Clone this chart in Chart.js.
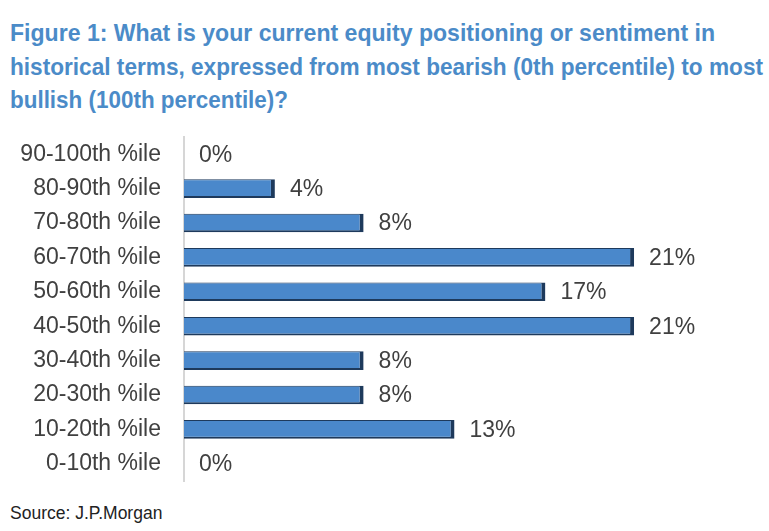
<!DOCTYPE html>
<html>
<head>
<meta charset="utf-8">
<script src="https://cdn.jsdelivr.net/npm/chart.js@4"></script>
<style>
  body { margin: 0; background: #fff; width: 769px; height: 531px; overflow: hidden; position: relative; }
  #title {
    position: absolute; left: 10px; top: 16px;
    font-family: "Liberation Sans", Arial, sans-serif;
    font-weight: bold; font-size: 24px; line-height: 33.5px; color: #4b8bc8;
  }
  #title span { display: block; white-space: nowrap; transform-origin: 0 0; width: max-content; }
  #source {
    position: absolute; left: 10px; top: 503px;
    font-family: "Liberation Sans", Arial, sans-serif; font-size: 17.5px; color: #222;
  }
  #wrap { position: absolute; left: 0; top: 120px; width: 769px; height: 375px; }
</style>
</head>
<body>
<div id="title"><span data-w="705">Figure 1: What is your current equity positioning or sentiment in</span><span data-w="753">historical terms, expressed from most bearish (0th percentile) to most</span><span data-w="278">bullish (100th percentile)?</span></div>
<div id="wrap"><canvas id="bars" width="769" height="375"></canvas></div>
<div id="source">Source: J.P.Morgan</div>
<script>
// categories top to bottom
const buckets = ["90-100th %ile", "80-90th %ile", "70-80th %ile", "60-70th %ile", "50-60th %ile",
                 "40-50th %ile", "30-40th %ile", "20-30th %ile", "10-20th %ile", "0-10th %ile"];
// share of responses, % (labels are rounded)
const shares = [0, 4.2, 8.3, 20.8, 16.7, 20.8, 8.3, 8.3, 12.5, 0];

// squeeze the title lines to the narrow look of the original
document.querySelectorAll("#title span").forEach(s => {
  const k = +s.dataset.w / s.getBoundingClientRect().width;
  s.style.transform = "scaleX(" + k + ")";
});

const labelFont = '23px "Liberation Sans", Arial, sans-serif';

// value labels just right of each bar end
const valueLabels = {
  id: "valueLabels",
  afterDatasetsDraw(chart) {
    const ctx = chart.ctx;
    const meta = chart.getDatasetMeta(0);
    ctx.save();
    ctx.font = labelFont;
    ctx.fillStyle = "#404040";
    ctx.textBaseline = "middle";
    meta.data.forEach((bar, i) => {
      ctx.fillText(Math.round(shares[i]) + "%", bar.x + 15, bar.y + 1);
    });
    ctx.restore();
  }
};

new Chart(document.getElementById("bars"), {
  type: "bar",
  data: {
    labels: buckets,
    datasets: [{
      data: shares,
      backgroundColor: "#4a88cb",
      borderColor: "#1e3a5c",
      borderWidth: { top: 1, right: 4, bottom: 2, left: 0 },
      borderSkipped: "start",
      barPercentage: 0.54,
      categoryPercentage: 1
    }]
  },
  options: {
    indexAxis: "y",
    responsive: false,
    animation: false,
    layout: { padding: { top: 17, bottom: 14, right: 44, left: 0 } },
    plugins: { legend: { display: false }, tooltip: { enabled: false } },
    scales: {
      x: { display: false, min: 0, max: 25 },
      y: {
        // invisible tick marks push the labels off the axis (ticks.padding would also pad top/bottom)
        grid: { display: true, drawOnChartArea: false, drawTicks: true, tickLength: 23, tickColor: "rgba(0,0,0,0)" },
        border: { display: true, color: "#d6d6d6", width: 2 },
        ticks: { padding: 0, color: "#404040", font: { family: '"Liberation Sans", Arial, sans-serif', size: 23 } },
        afterFit(scale) { scale.width = 184; }
      }
    }
  },
  plugins: [valueLabels]
});
</script>
</body>
</html>
